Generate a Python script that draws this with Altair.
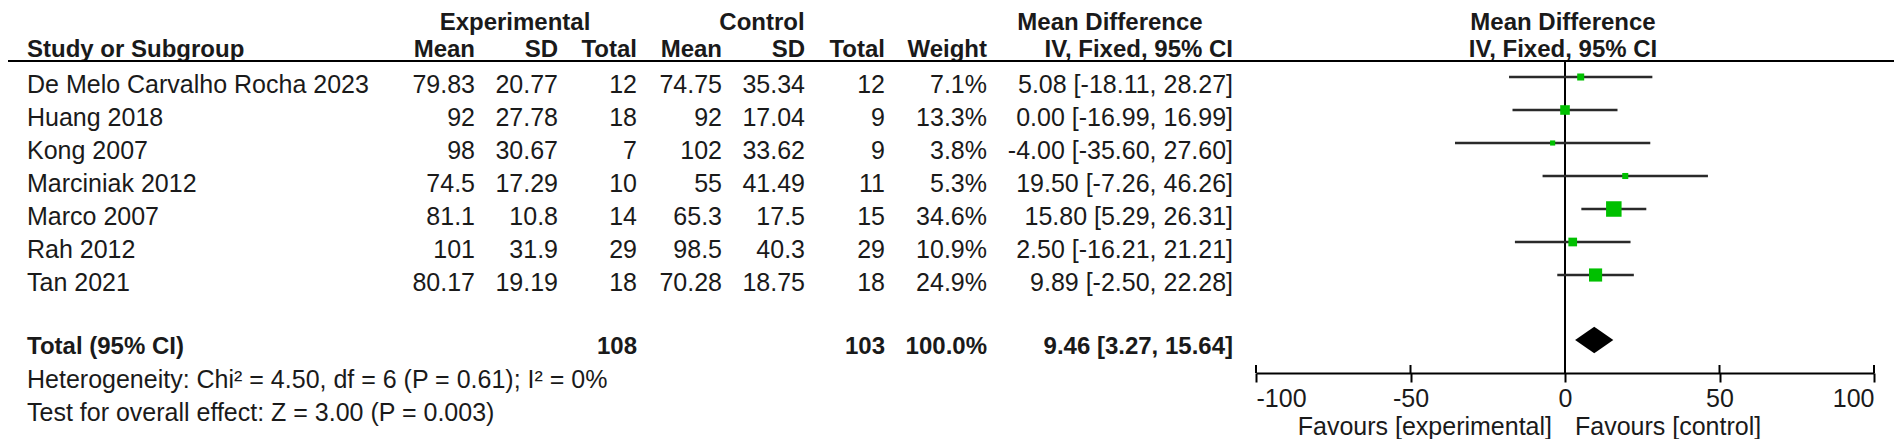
import altair as alt
import pandas as pd

# ---------------- data ----------------
studies = ["De Melo Carvalho Rocha 2023", "Huang 2018", "Kong 2007", "Marciniak 2012",
           "Marco 2007", "Rah 2012", "Tan 2021"]
exp_mean = [79.83, 92, 98, 74.5, 81.1, 101, 80.17]
exp_sd = [20.77, 27.78, 30.67, 17.29, 10.8, 31.9, 19.19]
exp_n = [12, 18, 7, 10, 14, 29, 18]
ctl_mean = [74.75, 92, 102, 55, 65.3, 98.5, 70.28]
ctl_sd = [35.34, 17.04, 33.62, 41.49, 17.5, 40.3, 18.75]
ctl_n = [12, 9, 9, 11, 15, 29, 18]
weights = [7.1, 13.3, 3.8, 5.3, 34.6, 10.9, 24.9]
md = [5.08, 0.00, -4.00, 19.50, 15.80, 2.50, 9.89]
ci_lo = [-18.11, -16.99, -35.60, -7.26, 5.29, -16.21, -2.50]
ci_hi = [28.27, 16.99, 27.60, 46.26, 26.31, 21.21, 22.28]

total_label = "Total (95% CI)"
total_exp_n = 108
total_ctl_n = 103
total_weight = 100.0
total_md, total_lo, total_hi = 9.46, 3.27, 15.64
heterogeneity = "Heterogeneity: Chi\u00b2 = 4.50, df = 6 (P = 0.61); I\u00b2 = 0%"
overall_effect = "Test for overall effect: Z = 3.00 (P = 0.003)"
axis_ticks = [-100, -50, 0, 50, 100]
favours_left = "Favours [experimental]"
favours_right = "Favours [control]"

hdr1 = ["Experimental", "Control", "Mean Difference", "Mean Difference"]
hdr2 = ["Study or Subgroup", "Mean", "SD", "Total", "Mean", "SD", "Total", "Weight",
        "IV, Fixed, 95% CI", "IV, Fixed, 95% CI"]

# ---------------- layout (reference pixel coordinates) ----------------
W, H = 1886, 431
ORIGIN = 8
ROW0, ROW_H = 84, 33


def r(y):
    return (y - ROW0) / ROW_H


Y_HDR1, Y_HDR2, Y_LINE = 21.5, 48.5, 61
Y_TOTAL, Y_DIAMOND, DIAMOND_HALF = 345.5, 340, 13.3
Y_HET, Y_TEST = 379, 411.5
Y_AXIS, Y_TICK_TOP, Y_FAV = 373, 365, 426
CI_SHIFT = -7
X_STUDY = 27
COLS = [475, 558, 637, 722, 805, 885, 987, 1233]  # right edges of numeric columns
X_HDR1 = [515, 762, 1110, 1563]
X_FOREST_C = 1563
X_FAV_L, X_FAV_R = 1552, 1575
X_LINE0, X_LINE1 = 8, 1894
FOREST_RANGE = [1256 - ORIGIN, 1874 - ORIGIN]

FONT = "Liberation Sans"
TXT = "#1a1a1a"
GREEN = "#00c000"
FS, FSB = 25, 24

# ---------------- table cells ----------------
cells = []


def add(text, x, y, align, bold):
    cells.append(dict(text=text, x=x, r=r(y), align=align, bold=bold))


for t, x in zip(hdr1, X_HDR1):
    add(t, x, Y_HDR1, "center", True)
add(hdr2[0], X_STUDY, Y_HDR2, "left", True)
for t, x in zip(hdr2[1:9], COLS):
    add(t, x, Y_HDR2, "right", True)
add(hdr2[9], X_FOREST_C, Y_HDR2, "center", True)

for i, s in enumerate(studies):
    y = ROW0 + i * ROW_H
    add(s, X_STUDY, y, "left", False)
    vals = [f"{exp_mean[i]:g}", f"{exp_sd[i]:g}", f"{exp_n[i]}",
            f"{ctl_mean[i]:g}", f"{ctl_sd[i]:g}", f"{ctl_n[i]}",
            f"{weights[i]:.1f}%", f"{md[i]:.2f} [{ci_lo[i]:.2f}, {ci_hi[i]:.2f}]"]
    for v, x in zip(vals, COLS):
        add(v, x, y, "right", False)

add(total_label, X_STUDY, Y_TOTAL, "left", True)
add(f"{total_exp_n}", COLS[2], Y_TOTAL, "right", True)
add(f"{total_ctl_n}", COLS[5], Y_TOTAL, "right", True)
add(f"{total_weight:.1f}%", COLS[6], Y_TOTAL, "right", True)
add(f"{total_md:.2f} [{total_lo:.2f}, {total_hi:.2f}]", COLS[7], Y_TOTAL, "right", True)
add(heterogeneity, X_STUDY, Y_HET, "left", False)
add(overall_effect, X_STUDY, Y_TEST, "left", False)
add(favours_left, X_FAV_L, Y_FAV, "right", False)
add(favours_right, X_FAV_R, Y_FAV, "left", False)

cells_df = pd.DataFrame(cells)

YS = alt.Scale(domain=[r(ORIGIN), r(ORIGIN + H)], reverse=True, nice=False, zero=False)
XT = alt.Scale(domain=[ORIGIN, ORIGIN + W], nice=False, zero=False)

table_layers = []
for (align, bold), sub in cells_df.groupby(["align", "bold"]):
    table_layers.append(
        alt.Chart(sub).mark_text(
            align=align, baseline="middle", font=FONT,
            fontSize=FSB if bold else FS, fontWeight="bold" if bold else "normal",
            color=TXT, dy=1,
        ).encode(
            x=alt.X("x:Q", scale=XT, axis=None),
            y=alt.Y("r:Q", scale=YS, axis=None),
            text="text:N",
        )
    )

hdr_line = alt.Chart(pd.DataFrame({"x": [X_LINE0], "x2": [X_LINE1], "r": [r(Y_LINE)]})).mark_rule(
    color="black", strokeWidth=2
).encode(x=alt.X("x:Q", scale=XT, axis=None), x2="x2:Q", y=alt.Y("r:Q", scale=YS, axis=None))
table_layers.append(hdr_line)

table = alt.layer(*table_layers)

# ---------------- forest plot ----------------
FX_SCALE = alt.Scale(domain=[-100, 100], range=FOREST_RANGE, nice=False, zero=False)
FX_AXIS = alt.Axis(
    values=axis_ticks, orient="bottom", offset=-(ORIGIN + H - Y_AXIS), title=None,
    domain=True, domainColor="black", domainWidth=2,
    ticks=True, tickSize=9, tickWidth=2, tickColor="black",
    labelFontSize=FS, labelFont=FONT, labelColor=TXT, labelFlush=True,
    labelPadding=4, labelExpr="'' + datum.value", grid=False,
)


def FX(field):
    return alt.X(field, scale=FX_SCALE, axis=FX_AXIS)


forest_df = pd.DataFrame(dict(
    study=studies, md=md, lo=ci_lo, hi=ci_hi, w=weights,
    r=[r(ROW0 + i * ROW_H + CI_SHIFT) for i in range(len(studies))],
))

zero_line = alt.Chart(pd.DataFrame({"v": [0], "r1": [r(Y_LINE)], "r2": [r(Y_AXIS)]})).mark_rule(
    color="black", strokeWidth=2
).encode(x=FX("v:Q"), y=alt.Y("r1:Q", scale=YS, axis=None), y2="r2:Q")

ci_lines = alt.Chart(forest_df).mark_rule(color="#2a2a2a", strokeWidth=2.5).encode(
    x=FX("lo:Q"), x2="hi:Q", y=alt.Y("r:Q", scale=YS, axis=None)
)

squares = alt.Chart(forest_df).mark_square(color=GREEN, opacity=1).encode(
    x=FX("md:Q"), y=alt.Y("r:Q", scale=YS, axis=None),
    size=alt.Size("w:Q", scale=alt.Scale(domain=[0, 100], range=[0, 695]), legend=None),
)

c = r(Y_DIAMOND)
h = DIAMOND_HALF / ROW_H
diamond_df = pd.DataFrame({
    "x": [total_lo, total_md, total_hi],
    "y": [c, c - h, c],
    "y2": [c, c + h, c],
})
diamond = alt.Chart(diamond_df).mark_area(color="black", opacity=1).encode(
    x=FX("x:Q"), y=alt.Y("y:Q", scale=YS, axis=None), y2="y2:Q"
)

tick_df = pd.DataFrame({"v": axis_ticks, "r1": [r(Y_TICK_TOP)] * len(axis_ticks),
                        "r2": [r(Y_AXIS)] * len(axis_ticks)})
ticks_up = alt.Chart(tick_df).mark_rule(color="black", strokeWidth=2).encode(
    x=FX("v:Q"), y=alt.Y("r1:Q", scale=YS, axis=None), y2="r2:Q"
)

forest = alt.layer(zero_line, ci_lines, squares, diamond, ticks_up)

chart = alt.layer(table, forest).resolve_scale(x="independent").properties(
    width=W, height=H, padding=0, autosize=alt.AutoSizeParams(type="none"),
    background="white",
).configure_view(stroke=None)

chart.save("out.html", embed_options={"renderer": "svg", "actions": False})
